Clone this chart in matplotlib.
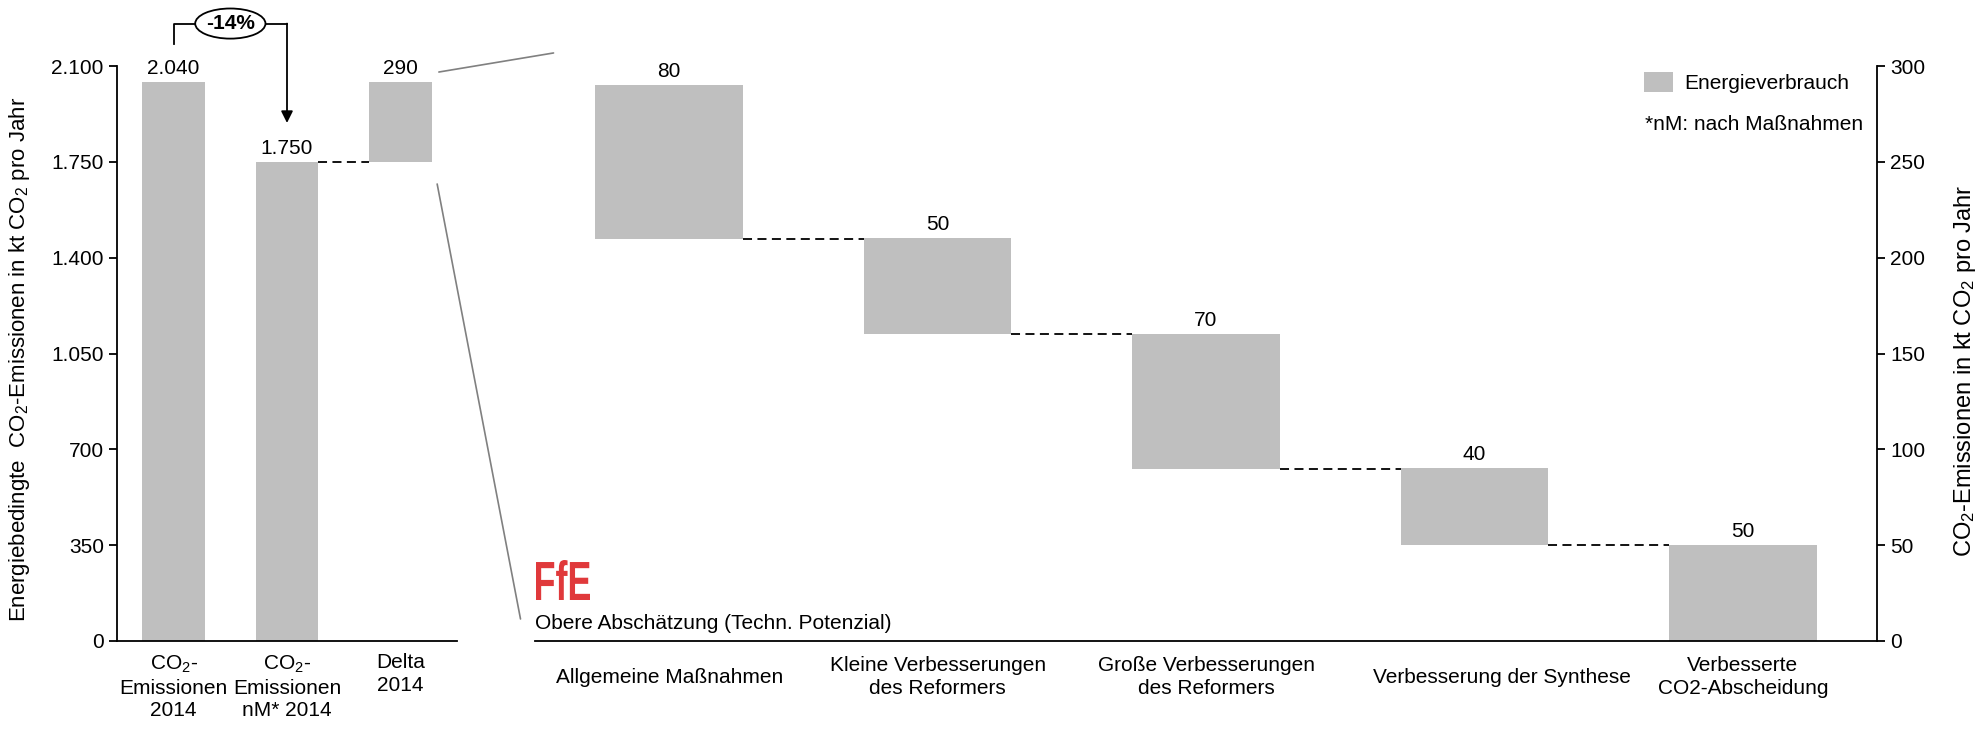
import matplotlib
matplotlib.use("Agg")
import matplotlib.pyplot as plt
from matplotlib.patches import Ellipse, Patch, PathPatch, ConnectionPatch
from matplotlib.textpath import TextPath
from matplotlib.font_manager import FontProperties
from matplotlib.transforms import Affine2D, ScaledTranslation
from matplotlib.ticker import FuncFormatter

plt.rcParams['font.family'] = ['Liberation Sans', 'DejaVu Sans']
plt.rcParams['mathtext.fontset'] = 'custom'
plt.rcParams['mathtext.rm'] = 'Liberation Sans'
plt.rcParams['mathtext.it'] = 'Liberation Sans:italic'
plt.rcParams['mathtext.bf'] = 'Liberation Sans:bold'

# ---------------- data ----------------
left_labels = ["CO$_\\mathregular{2}$-\nEmissionen\n2014",
               "CO$_\\mathregular{2}$-\nEmissionen\nnM* 2014",
               "Delta\n2014"]
emis_2014 = 2040
emis_nm_2014 = 1750
delta_2014 = emis_2014 - emis_nm_2014          # 290

right_labels = ["Allgemeine Maßnahmen",
                "Kleine Verbesserungen\ndes Reformers",
                "Große Verbesserungen\ndes Reformers",
                "Verbesserung der Synthese",
                "Verbesserte\nCO2-Abscheidung"]
reductions = [80, 50, 70, 40, 50]

left_yticks = [0, 350, 700, 1050, 1400, 1750, 2100]
right_yticks = [0, 50, 100, 150, 200, 250, 300]

BAR = '#BFBFBF'
FS = 15
W, H = 1981, 729


def de_fmt(v, pos=None):
    return f"{v:,.0f}".replace(",", ".")


fig = plt.figure(figsize=(W / 100, H / 100), dpi=100)

# ---------------- left axes ----------------
ax1 = fig.add_axes([117 / W, (H - 641) / H, 340 / W, 575 / H])
lx = [0, 1, 2]
l_heights = [emis_2014, emis_nm_2014, delta_2014]
l_bottoms = [0, 0, emis_nm_2014]
bw = 0.55
ax1.bar(lx, l_heights, bottom=l_bottoms, width=bw, color=BAR, zorder=2)
ax1.set_xlim(-0.5, 2.5)
ax1.set_ylim(0, 2100)
ax1.set_yticks(left_yticks)
ax1.yaxis.set_major_formatter(FuncFormatter(de_fmt))
ax1.set_xticks(lx)
ax1.set_xticklabels(left_labels, fontsize=FS, va='top', linespacing=1.25)
ax1.tick_params(axis='x', length=0, pad=9)
ax1.tick_params(axis='y', length=6, width=1.3, labelsize=FS, direction='out')
for s in ['top', 'right']:
    ax1.spines[s].set_visible(False)
for s in ['left', 'bottom']:
    ax1.spines[s].set_linewidth(1.3)
ax1.set_ylabel("Energiebedingte  CO$_\\mathregular{2}$-Emissionen in kt CO$_\\mathregular{2}$ pro Jahr",
               fontsize=16)
ax1.yaxis.set_label_coords(-0.25, 0.49)

for x, h, b in zip(lx, l_heights, l_bottoms):
    ax1.annotate(de_fmt(h), (x, b + h), xytext=(0, 3), textcoords='offset points',
                 ha='center', va='bottom', fontsize=FS)

# dashed connector left
ax1.plot([1 + bw / 2, 2 - bw / 2], [emis_nm_2014, emis_nm_2014], color='black',
         lw=1.3, ls=(0, (5, 3)), zorder=3)

# -14% bracket
pct = round((emis_nm_2014 - emis_2014) / emis_2014 * 100)
y_start = emis_2014 + 140
y_top = emis_2014 + 215
ew = 0.62
eh = 110
ax1.plot([0, 0, 0.5 - ew / 2], [y_start, y_top, y_top], color='black', lw=1.3,
         clip_on=False)
ax1.plot([0.5 + ew / 2, 1], [y_top, y_top], color='black', lw=1.3, clip_on=False)
ax1.annotate('', xy=(1, emis_nm_2014 + 142), xytext=(1, y_top),
             arrowprops=dict(arrowstyle='-|>,head_length=0.7,head_width=0.35',
                             color='black', lw=1.3, shrinkA=0, shrinkB=0),
             annotation_clip=False)
ax1.add_patch(Ellipse((0.5, y_top), ew, eh, fc='white', ec='black', lw=1.3,
                      clip_on=False, zorder=4))
ax1.text(0.5, y_top, f"{pct}%", ha='center', va='center', fontsize=FS,
         fontweight='bold', zorder=5)

# ---------------- right axes ----------------
ax2 = fig.add_axes([535 / W, (H - 641) / H, 1342 / W, 575 / H])
rx = list(range(len(reductions)))
start = delta_2014
r_bottoms = []
cur = start
for r in reductions:
    cur -= r
    r_bottoms.append(cur)
ax2.bar(rx, reductions, bottom=r_bottoms, width=bw, color=BAR, zorder=2)
ax2.set_xlim(-0.5, len(reductions) - 0.5)
ax2.set_ylim(0, 300)
ax2.yaxis.tick_right()
ax2.yaxis.set_label_position('right')
ax2.set_yticks(right_yticks)
ax2.set_xticks(rx)
ax2.set_xticklabels(right_labels, fontsize=FS, va='center', linespacing=1.25)
ax2.tick_params(axis='x', length=0, pad=26)
ax2.tick_params(axis='y', length=6, width=1.3, labelsize=FS, direction='out')
# the "Synthese" label sits slightly right of its bar in the original
lab = ax2.get_xticklabels()[3]
lab.set_transform(lab.get_transform() + ScaledTranslation(0.28, 0, fig.dpi_scale_trans))
for s in ['top', 'left']:
    ax2.spines[s].set_visible(False)
for s in ['right', 'bottom']:
    ax2.spines[s].set_linewidth(1.3)
ax2.set_ylabel("CO$_\\mathregular{2}$-Emissionen in kt CO$_\\mathregular{2}$ pro Jahr",
               fontsize=17)
ax2.yaxis.set_label_coords(1.056, 0.47)

for x, r, b in zip(rx, reductions, r_bottoms):
    ax2.annotate(str(r), (x, b + r), xytext=(0, 3), textcoords='offset points',
                 ha='center', va='bottom', fontsize=FS)
for i in range(len(reductions) - 1):
    ax2.plot([i + bw / 2, i + 1 - bw / 2], [r_bottoms[i], r_bottoms[i]],
             color='black', lw=1.3, ls=(0, (5, 3)), zorder=3)

ax2.text(0, 0.031, "Obere Abschätzung (Techn. Potenzial)", transform=ax2.transAxes,
         ha='left', va='center', fontsize=FS)

# legend
leg = ax2.legend(handles=[Patch(fc=BAR, ec='none')], labels=['Energieverbrauch'],
                 loc='upper left', bbox_to_anchor=(1644 / W, (H - 72) / H),
                 bbox_transform=fig.transFigure, frameon=False, fontsize=FS,
                 handlelength=1.4, handleheight=1.1, handletextpad=0.55,
                 borderpad=0, borderaxespad=0)
fig.text(1645 / W, (H - 124) / H, "*nM: nach Maßnahmen", fontsize=FS,
         ha='left', va='center')

# zoom connector lines
con1 = ConnectionPatch(xyA=(2 + bw / 2 + 0.065, emis_2014 + 38), coordsA=ax1.transData,
                       xyB=(-0.431, 306.8), coordsB=ax2.transData,
                       color='#808080', lw=1.2)
con2 = ConnectionPatch(xyA=(2 + bw / 2 + 0.05, emis_nm_2014 - 81), coordsA=ax1.transData,
                       xyB=(-0.554, 11.5), coordsB=ax2.transData,
                       color='#808080', lw=1.2)
for c in (con1, con2):
    c.set_clip_on(False)
    fig.add_artist(c)

# FfE logo
tp = TextPath((0, 0), "FfE", size=40,
              prop=FontProperties(family='Liberation Sans', weight='bold'))
ext = tp.get_extents()
tr = (Affine2D().translate(-ext.x0, -ext.y0)
      .scale(54 / ext.width, 40 / ext.height)
      .translate(536, H - 600)
      .scale(1 / W, 1 / H))
logo = PathPatch(tr.transform_path(tp), fc='#E0393B', ec='none',
                 transform=fig.transFigure)
fig.add_artist(logo)

fig.savefig("out.png", dpi=100, facecolor='white')
